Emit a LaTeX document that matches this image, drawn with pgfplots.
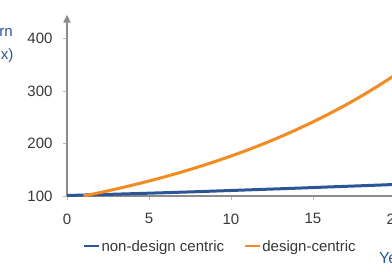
\documentclass[border=0pt]{standalone}
\usepackage{pgfplots}
\pgfplotsset{compat=1.18}
\usepackage{fontspec}
\setmainfont{Liberation Sans}
\usetikzlibrary{arrows.meta}
\definecolor{axgray}{RGB}{140,140,140}
\definecolor{tickgray}{RGB}{185,185,185}
\definecolor{lblue}{RGB}{42,85,150}
\definecolor{lorange}{RGB}{245,138,31}
\definecolor{txtblue}{RGB}{40,85,160}
\definecolor{txtgray}{RGB}{55,55,55}
\newcommand{\chartfont}{\fontsize{15}{18}\selectfont}
\begin{document}
\begin{tikzpicture}
\useasboundingbox (0,0) rectangle (392pt,272pt);
\clip (0,0) rectangle (392pt,272pt);
\begin{axis}[
  at={(67pt,76pt)}, anchor=south west,
  x=16.4pt, y=0.524pt,
  xmin=0, xmax=21.5, ymin=100, ymax=446,
  clip=false,
  axis x line=bottom, axis y line=left,
  x axis line style={-, draw=axgray, line width=2.8pt},
  y axis line style={-{Triangle[length=8pt,width=7pt]}, draw=axgray, line width=2.8pt},
  xtick={0,5,10,15,20}, ytick={100,200,300,400},
  tick align=outside, major tick length=4pt,
  tick style={draw=tickgray, line width=0.8pt},
  tick label style={font=\chartfont, text=txtgray},
  xticklabel shift=10pt, yticklabel shift=7pt,
  /pgf/number format/assume math mode=true,
  legend style={draw=none, fill=none, at={(0.434,-0.281)}, anchor=center,
    font=\chartfont, text=txtgray, nodes={inner sep=1pt},
    /tikz/every even column/.append style={column sep=19pt}},
  legend columns=2,
  legend image code/.code={\draw[#1, line width=2.2pt] (0pt,1pt) -- (15pt,1pt);},
]
\addplot[lblue, line width=3pt] coordinates {(0,101)(2,102.6)(4,104.4)(6,106.3)(8,108.3)(10,110.5)(12,112.7)(14,114.9)(16,117.3)(18,119.6)(20,122.0)(22,124.5)};
\addlegendentry{non-design centric}
\addplot[lorange, line width=3pt, smooth] coordinates {(1,100)(2,106.5)(3,113.4)(4,120.8)(5,128.6)(6,137.0)(7,145.9)(8,155.4)(9,165.5)(10,176.3)(11,187.7)(12,199.9)(13,212.9)(14,226.8)(15,241.5)(16,257.2)(17,273.9)(18,291.7)(19,310.7)(20,330.9)(21,352.4)(22,375.3)};
\addlegendentry{design-centric}
\end{axis}
\node[anchor=base east, inner sep=0, text=txtblue, font=\chartfont] at (13pt,235pt) {Return};
\node[anchor=base east, inner sep=0, text=txtblue, font=\chartfont] at (13.5pt,212pt) {(index)};
\node[anchor=west, inner sep=0, text=txtblue, font=\fontsize{16}{19}\selectfont] at (379pt,14pt) {Years};
\end{tikzpicture}
\end{document}
